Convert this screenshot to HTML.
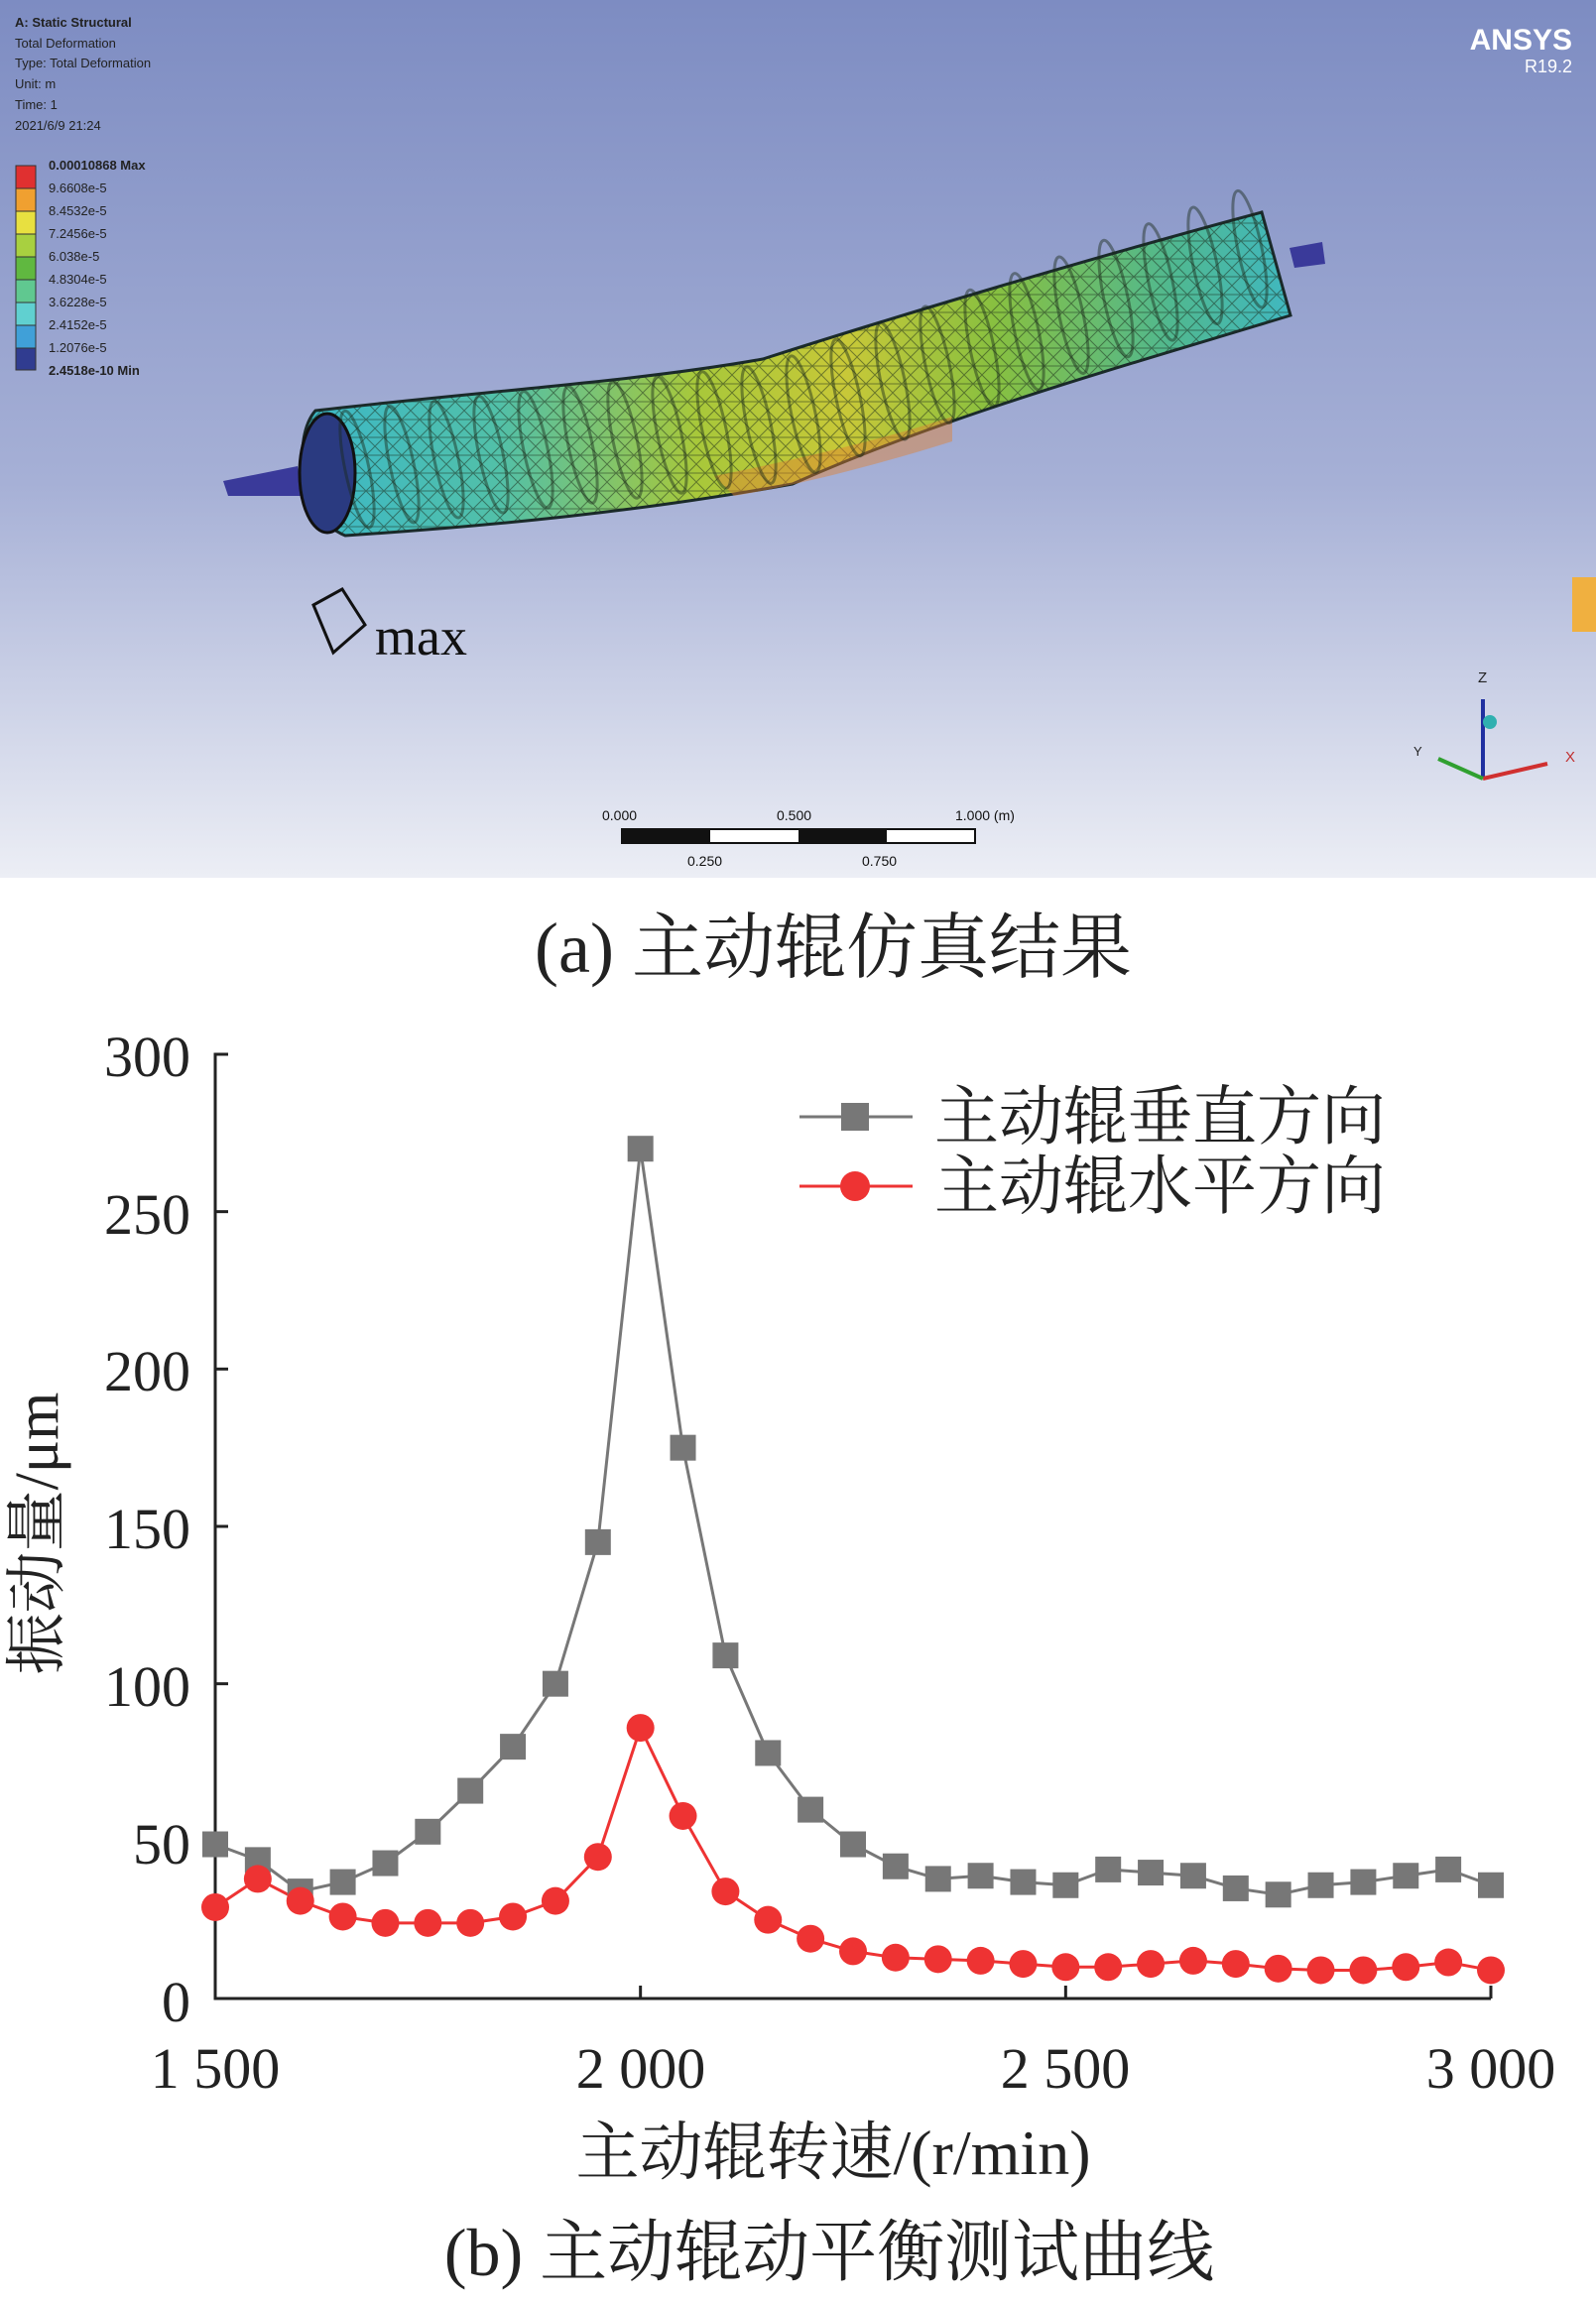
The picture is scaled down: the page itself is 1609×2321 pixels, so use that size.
<!DOCTYPE html>
<html><head><meta charset="utf-8"><style>
html,body{margin:0;padding:0;background:#fff}
svg{display:block}
.cn{font-family:"Liberation Serif","Noto Serif CJK SC","Noto Sans CJK SC",serif}
.an{font-family:"Liberation Sans","DejaVu Sans",sans-serif;fill:#222}
</style></head><body>
<svg id="s" width="1609" height="2321" viewBox="0 0 1609 2321" xmlns="http://www.w3.org/2000/svg">
<defs>
<linearGradient id="bg" x1="0" y1="0" x2="0" y2="1">
<stop offset="0" stop-color="#7d8cc2"/><stop offset="0.55" stop-color="#a6b0d6"/><stop offset="1" stop-color="#eceef5"/>
</linearGradient>
<linearGradient id="rol" x1="0" y1="0" x2="1" y2="0">
<stop offset="0" stop-color="#3bb8c8"/><stop offset="0.2" stop-color="#52c0a8"/><stop offset="0.4" stop-color="#a8c83a"/><stop offset="0.55" stop-color="#c8c838"/><stop offset="0.7" stop-color="#88c040"/><stop offset="0.88" stop-color="#50b890"/><stop offset="1" stop-color="#40b8c0"/>
</linearGradient>
<pattern id="mesh" width="18" height="18" patternUnits="userSpaceOnUse"><path d="M0 0L18 18M18 0L0 18M0 9H18" stroke="#1a2a1a" stroke-width="1" opacity="0.5"/></pattern>
</defs>
<rect x="0" y="0" width="1609" height="885" fill="url(#bg)"/>
<text class="an" font-size="13" font-weight="bold" x="15" y="27">A: Static Structural</text>
<text class="an" font-size="13" x="15" y="48">Total Deformation</text>
<text class="an" font-size="13" x="15" y="68">Type: Total Deformation</text>
<text class="an" font-size="13" x="15" y="89">Unit: m</text>
<text class="an" font-size="13" x="15" y="110">Time: 1</text>
<text class="an" font-size="13" x="15" y="131">2021/6/9 21:24</text>
<g stroke="#333" stroke-width="1">
<rect x="16" y="167" width="20" height="23" fill="#e03030"/>
<rect x="16" y="190" width="20" height="23" fill="#f0a030"/>
<rect x="16" y="213" width="20" height="23" fill="#e8e040"/>
<rect x="16" y="236" width="20" height="23" fill="#a8d040"/>
<rect x="16" y="259" width="20" height="23" fill="#60b840"/>
<rect x="16" y="282" width="20" height="23" fill="#60c890"/>
<rect x="16" y="305" width="20" height="23" fill="#60d0d0"/>
<rect x="16" y="328" width="20" height="23" fill="#40a0d8"/>
<rect x="16" y="351" width="20" height="22" fill="#303c90"/>
</g>
<g class="an" font-size="13">
<text x="49" y="171" font-weight="bold">0.00010868 Max</text>
<text x="49" y="194">9.6608e-5</text><text x="49" y="217">8.4532e-5</text><text x="49" y="240">7.2456e-5</text>
<text x="49" y="263">6.038e-5</text><text x="49" y="286">4.8304e-5</text><text x="49" y="309">3.6228e-5</text>
<text x="49" y="332">2.4152e-5</text><text x="49" y="355">1.2076e-5</text>
<text x="49" y="378" font-weight="bold">2.4518e-10 Min</text>
</g>
<text x="1585" y="50" text-anchor="end" font-family="Liberation Sans,sans-serif" font-size="30" font-weight="bold" fill="#fff">ANSYS</text>
<text x="1585" y="73" text-anchor="end" font-family="Liberation Sans,sans-serif" font-size="18" fill="#fff">R19.2</text>
<!-- roller -->
<path d="M225 485L300 470L305 500L230 500Z" fill="#3a3a9a"/>
<path d="M1300 250L1333 244L1336 266L1305 270Z" fill="#3a3a9a"/>
<path d="M318 414C480 395 640 385 769 362C900 320 1100 260 1272 214L1301 318C1130 370 950 420 799 488C650 515 500 530 348 540C300 520 295 440 318 414Z" fill="url(#rol)" stroke="#1a2a2a" stroke-width="3"/>
<path d="M318 414C480 395 640 385 769 362C900 320 1100 260 1272 214L1301 318C1130 370 950 420 799 488C650 515 500 530 348 540C300 520 295 440 318 414Z" fill="url(#mesh)"/>
<path d="M720 480C820 460 900 440 960 420L960 445C880 470 800 490 740 500Z" fill="#e08030" opacity="0.45"/>
<ellipse cx="330" cy="477" rx="28" ry="60" fill="#2a3a80" stroke="#111" stroke-width="3"/>
<g fill="none" stroke="#1a2a1a" stroke-width="3" opacity="0.45" id="rings"></g>
<path d="M316 610L345 594L368 630L336 658Z" fill="none" stroke="#111" stroke-width="3"/>
<text x="378" y="660" font-family="Liberation Serif,serif" font-size="54" fill="#111">max</text>
<!-- axis triad -->
<line x1="1495" y1="785" x2="1495" y2="705" stroke="#2030a0" stroke-width="4"/>
<circle cx="1502" cy="728" r="7" fill="#30b0b0"/>
<line x1="1495" y1="785" x2="1560" y2="770" stroke="#d03030" stroke-width="4"/>
<line x1="1495" y1="785" x2="1450" y2="765" stroke="#30a030" stroke-width="4"/>
<text x="1490" y="688" font-family="Liberation Sans,sans-serif" font-size="15" fill="#222">Z</text>
<text x="1578" y="768" font-family="Liberation Sans,sans-serif" font-size="15" fill="#c03030">X</text>
<text x="1425" y="762" font-family="Liberation Sans,sans-serif" font-size="13" fill="#222">Y</text>
<rect x="1585" y="582" width="24" height="55" fill="#f0b040"/>
<!-- scale bar -->
<g font-family="Liberation Sans,sans-serif" font-size="14" fill="#111">
<text x="607" y="827">0.000</text><text x="783" y="827">0.500</text><text x="963" y="827">1.000 (m)</text>
<text x="693" y="873">0.250</text><text x="869" y="873">0.750</text>
</g>
<rect x="627" y="836" width="356" height="14" fill="#fff" stroke="#111" stroke-width="2"/>
<rect x="627" y="836" width="89" height="14" fill="#111"/><rect x="805" y="836" width="89" height="14" fill="#111"/>
<text class="cn" x="840" y="980" text-anchor="middle" font-size="72" fill="#222">(a)  主动辊仿真结果</text>
<!-- chart -->
<g stroke="#222" stroke-width="3" fill="none">
<path d="M230 1063H217V2015H1503"/>
</g>
<g id="ticks" stroke="#222" stroke-width="3"></g>
<g class="cn" font-size="58" fill="#222" text-anchor="end">
<text x="192" y="1085">300</text><text x="192" y="1244">250</text><text x="192" y="1402">200</text>
<text x="192" y="1561">150</text><text x="192" y="1720">100</text><text x="192" y="1879">50</text><text x="192" y="2038">0</text>
</g>
<g class="cn" font-size="58" fill="#222" text-anchor="middle">
<text x="217" y="2105">1 500</text><text x="646" y="2105">2 000</text><text x="1074" y="2105">2 500</text><text x="1503" y="2105">3 000</text>
</g>
<text class="cn" x="840" y="2192" text-anchor="middle" font-size="64" fill="#222">主动辊转速/(r/min)</text>
<text class="cn" transform="translate(58,1546) rotate(-90)" text-anchor="middle" font-size="62" fill="#222">振动量/μm</text>
<text class="cn" x="836" y="2294" text-anchor="middle" font-size="68" fill="#222">(b)  主动辊动平衡测试曲线</text>
<g id="data"></g>
<line x1="806" y1="1126" x2="920" y2="1126" stroke="#777" stroke-width="3"/>
<rect x="848" y="1112" width="28" height="28" fill="#777"/>
<line x1="806" y1="1196" x2="920" y2="1196" stroke="#e33" stroke-width="3"/>
<circle cx="862" cy="1196" r="15" fill="#e33"/>
<text class="cn" x="942" y="1148" font-size="65" fill="#222">主动辊垂直方向</text>
<text class="cn" x="942" y="1218" font-size="65" fill="#222">主动辊水平方向</text>
</svg>
<script>
var NS="http://www.w3.org/2000/svg";
function el(t,a,p){var e=document.createElementNS(NS,t);for(var k in a)e.setAttribute(k,a[k]);p.appendChild(e);return e;}
var tk=document.getElementById("ticks");
for(var i=1;i<=6;i++){var y=2015-i*158.67;el("line",{x1:217,y1:y,x2:230,y2:y},tk);}
for(var i=1;i<=3;i++){var x=217+i*428.67;el("line",{x1:x,y1:2015,x2:x,y2:2002},tk);}
var g=[49,44,34,37,43,53,66,80,100,145,270,175,109,78,60,49,42,38,39,37,36,41,40,39,35,33,36,37,39,41,36];
var r=[29,38,31,26,24,24,24,26,31,45,86,58,34,25,19,15,13,12.5,12,11,10,10,11,12,11,9.5,9,9,10,11.5,9];
var d=document.getElementById("data");
function X(i){return 217+i*50/1500*1286;}function Y(v){return 2015-v*3.1733;}
var pg=g.map(function(v,i){return X(i)+","+Y(v)}).join(" ");
var pr=r.map(function(v,i){return X(i)+","+Y(v)}).join(" ");
el("polyline",{points:pg,fill:"none",stroke:"#777","stroke-width":3},d);
el("polyline",{points:pr,fill:"none",stroke:"#e33","stroke-width":3},d);
g.forEach(function(v,i){el("rect",{x:X(i)-13,y:Y(v)-13,width:26,height:26,fill:"#777"},d);});
r.forEach(function(v,i){el("circle",{cx:X(i),cy:Y(v),r:14,fill:"#e33"},d);});
var rg=document.getElementById("rings");
for(var i=0;i<21;i++){var x=360+i*45;var cy=x<790?477-(x-325)*0.11:425-(x-790)*0.37;el("ellipse",{cx:x,cy:cy,rx:12,ry:60,transform:"rotate(-12 "+x+" "+cy+")"},rg);}
</script>
</body></html>
